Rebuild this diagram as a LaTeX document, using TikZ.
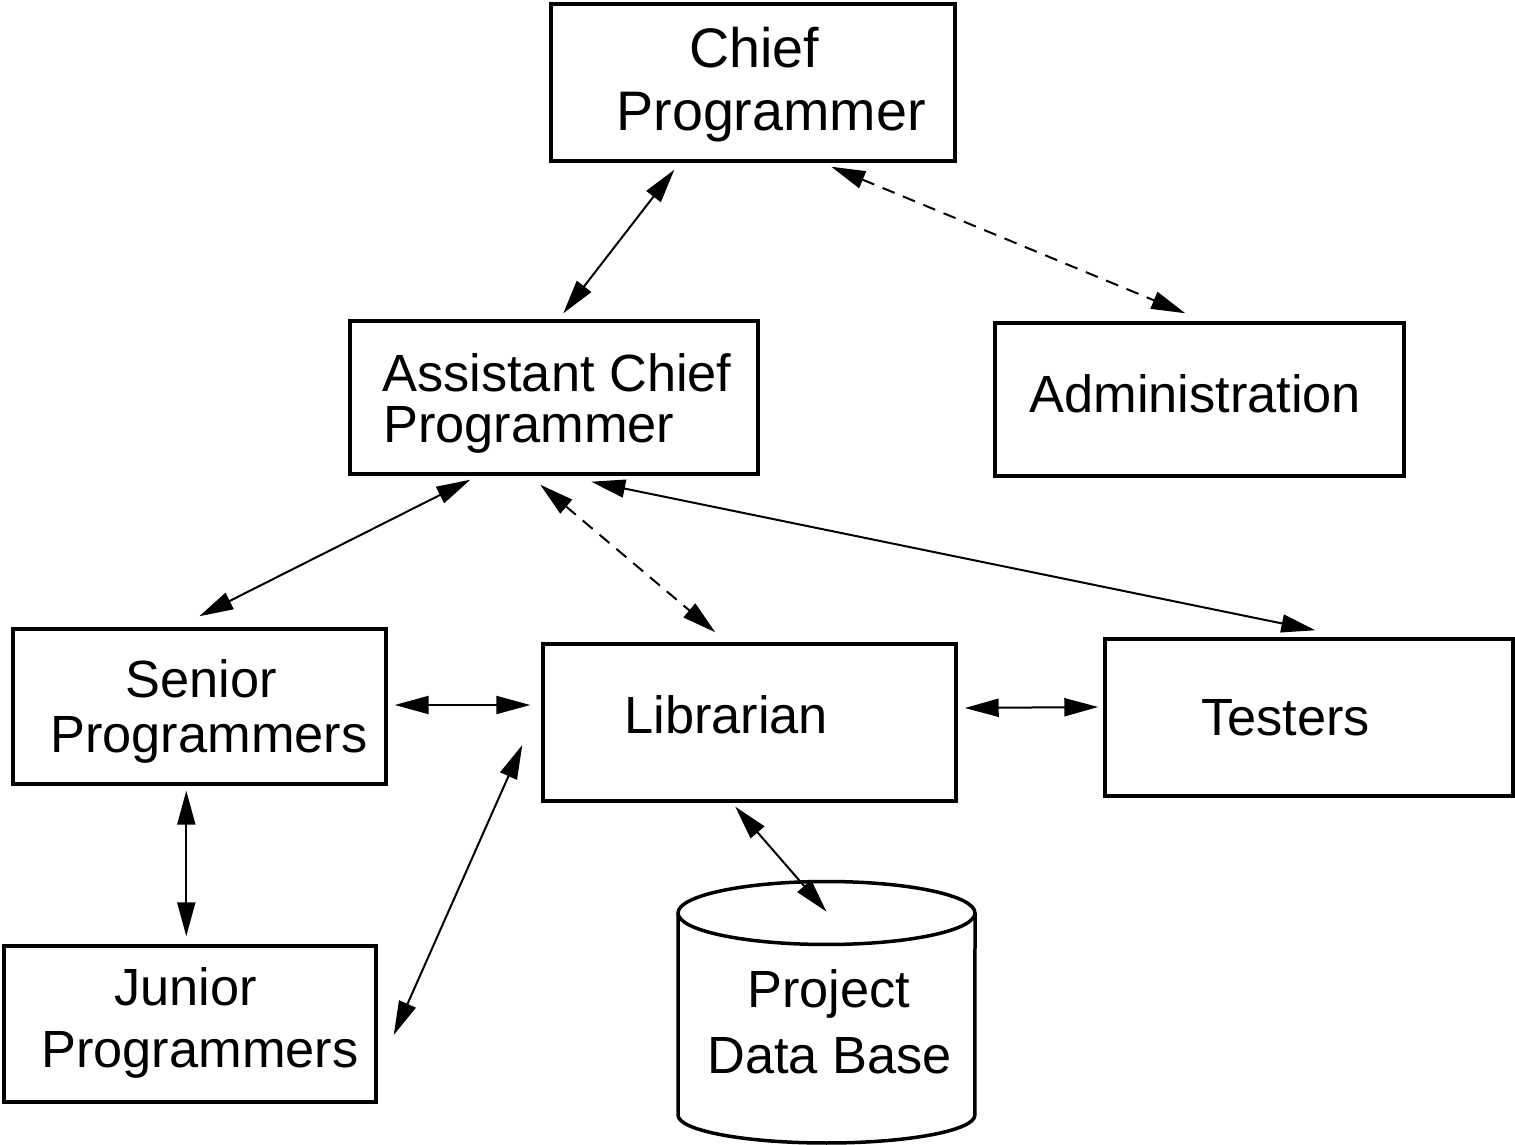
\documentclass[tikz,border=0pt]{standalone}
\usepackage{fontspec}
\setmainfont{Liberation Sans}
\usetikzlibrary{arrows.meta,calc}

\tikzset{
  box/.style={draw, line width=0.07cm, inner sep=0pt, rectangle},
  lbl/.style={anchor=base west, inner sep=0pt, font=\fontsize{29.8pt}{34pt}\selectfont},
  biglbl/.style={anchor=base west, inner sep=0pt, font=\fontsize{31.7pt}{36pt}\selectfont},
  link/.style={line width=0.04cm, {Triangle[length=0.68cm,width=0.36cm]}-{Triangle[length=0.68cm,width=0.36cm]}},
  dlink/.style={link, dash pattern=on 0.26cm off 0.18cm},
}

\begin{document}
\begin{tikzpicture}[x=0.02cm, y=-0.02cm]
\useasboundingbox (0,0) rectangle (1515,1145);

% boxes
\node[box, minimum width=8.08cm, minimum height=3.14cm] (chief)   at (753,82.5)   {};
\node[box, minimum width=8.16cm, minimum height=3.06cm] (acp)     at (554,397.5)  {};
\node[box, minimum width=8.18cm, minimum height=3.06cm] (admin)   at (1199.5,399.5) {};
\node[box, minimum width=7.46cm, minimum height=3.10cm] (senior)  at (199.5,706.5) {};
\node[box, minimum width=8.26cm, minimum height=3.14cm] (lib)     at (749.5,722.5) {};
\node[box, minimum width=8.16cm, minimum height=3.14cm] (testers) at (1309,717.5)  {};
\node[box, minimum width=7.44cm, minimum height=3.12cm] (junior)  at (190,1024)    {};

% project data base cylinder
\node[inner sep=0pt, minimum width=5.94cm, minimum height=5.22cm] (db) at (826.5,1012.5) {};
\draw[line width=0.07cm] (826.5,913) ellipse [x radius=2.97cm, y radius=0.63cm];
\draw[line width=0.07cm] (678,913) -- (678,1115)
  arc[start angle=180, end angle=360, x radius=2.97cm, y radius=0.56cm] -- (975,913);

% labels
\node[biglbl] (t1) at (689,68)  {Chief};
\node[biglbl] (t2) at (616,131) {Programmer};
\node[lbl] (t3) at (382,392) {Assistant Chief};
\node[lbl] (t4) at (383,443) {Programmer};
\node[lbl] (t5) at (1029,413) {Administration};
\node[lbl] (t6) at (125,697) {Senior};
\node[lbl] (t7) at (50,752)  {Programmers};
\node[lbl] (t8) at (114,1005) {Junior};
\node[lbl] (t9) at (41,1067)  {Programmers};
\node[lbl] (t10) at (624,733) {Librarian};
\node[lbl] (t11) at (1201,735) {Testers};
\node[lbl] (t12) at (747,1007) {Project};
\node[lbl] (t13) at (707,1073) {Data Base};

% connectors
\draw[link]  ($(chief.south west)+(125,7)$) -- ($(acp.north west)+(215,-6)$);
\draw[dlink] ($(chief.south west)+(282,4)$) -- ($(admin.north west)+(192,-8)$);
\draw[link]  ($(acp.south west)+(122,4)$) -- ($(senior.north west)+(188,-11)$);
\draw[dlink] ($(acp.south west)+(192,9)$) -- ($(lib.north west)+(174,-10)$);
\draw[link]  ($(acp.south west)+(243,6)$) -- ($(testers.north west)+(212,-7)$);
\draw[link]  ($(senior.east)+(7,-1.5)$) -- ($(lib.west)+(-11,-17.5)$);
\draw[link]  ($(lib.east)+(7,-14.5)$) -- ($(testers.west)+(-5,-10.5)$);
\draw[link]  ($(senior.south west)+(175,5)$) -- ($(junior.north west)+(184,-8)$);
\draw[link]  ($(junior.east)+(16,11)$) -- ($(lib.west)+(-19,22.5)$);
\draw[link]  ($(lib.south west)+(194,4)$) -- ($(db.north)+(0,30)$);
\end{tikzpicture}
\end{document}
